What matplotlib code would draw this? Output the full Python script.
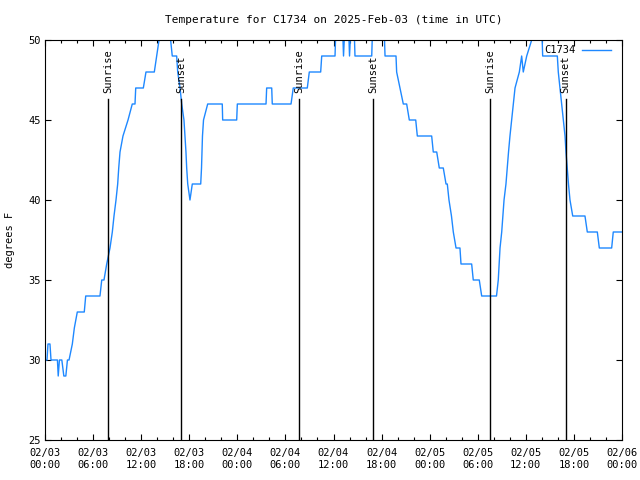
import matplotlib
import matplotlib.pyplot as plt

matplotlib.use("Agg")

# hours since 2025-02-03 00:00 UTC, temperature in deg F
hours = [
    0.00, 0.25, 0.37, 0.62, 0.75, 1.55, 1.65, 1.80, 2.10, 2.35, 2.60, 2.80,
    3.00, 3.41, 3.66, 4.03, 4.90, 5.08, 6.86, 7.08, 7.36, 7.70, 8.11, 8.40,
    8.61, 8.86, 9.07, 9.20, 9.36, 9.73, 10.36, 10.89, 11.23, 11.32, 12.27,
    12.60, 13.64, 13.94, 14.23, 14.35, 15.47, 15.88, 16.43, 16.56, 16.85,
    17.06, 17.34, 17.47, 17.59, 17.68, 17.81, 18.09, 18.38, 19.43, 19.53,
    19.59, 19.65, 19.78, 20.30, 22.12, 22.17, 23.92, 24.00, 27.58, 27.66,
    28.29, 28.36, 30.70, 30.98, 32.73, 32.98, 34.40, 34.53, 36.19, 36.31,
    37.12, 37.25, 37.43, 37.87, 38.00, 38.18, 38.56, 38.68, 40.77, 40.89,
    42.30, 42.43, 43.80, 43.88, 44.30, 44.71, 45.13, 45.46, 46.26, 46.46,
    48.25, 48.45, 48.88, 49.20, 49.70, 50.04, 50.20, 50.41, 50.72, 50.95,
    51.29, 51.78, 51.91, 53.24, 53.44, 54.19, 54.49, 56.34, 56.56, 56.78,
    56.99, 57.28, 57.52, 57.84, 58.02, 58.44, 58.65, 59.19, 59.48, 59.68,
    60.11, 60.73, 60.93, 61.98, 62.10, 63.93, 64.05, 64.26, 64.48, 64.68,
    64.89, 65.01, 65.17, 65.32, 65.51, 65.85, 67.38, 67.67, 68.92, 69.17,
    70.71, 70.91, 72.00,
]
temps = [
    30, 30, 31, 31, 30, 30, 29, 30, 30, 29, 29, 30,
    30, 31, 32, 33, 33, 34, 34, 35, 35, 36, 37, 38,
    39, 40, 41, 42, 43, 44, 45, 46, 46, 47, 47,
    48, 48, 49, 50, 51, 51, 49, 49, 48, 47,
    46, 45, 44, 43, 42, 41, 40, 41, 41, 42,
    43, 44, 45, 46, 46, 45, 45, 46, 46, 47,
    47, 46, 46, 47, 47, 48, 48, 49, 49, 51,
    51, 49, 51, 51, 49, 51, 51, 49, 49, 51,
    51, 49, 49, 48, 47, 46, 46, 45, 45, 44,
    44, 43, 43, 42, 42, 41, 41, 40, 39, 38,
    37, 37, 36, 36, 35, 35, 34, 34, 35, 37,
    38, 40, 41, 43, 44, 46, 47, 48, 49, 48,
    49, 50, 51, 51, 49, 49, 48, 47, 46, 45,
    44, 43, 42, 41, 40, 39, 39, 38, 38, 37,
    37, 38, 38,
]

sun_hours = [7.86, 17.03, 31.69, 40.99, 55.53, 64.95]
sun_labels = ["Sunrise", "Sunset", "Sunrise", "Sunset", "Sunrise", "Sunset"]

tick_hours = list(range(0, 73, 6))
tick_labels = [
    "02/03\n00:00", "02/03\n06:00", "02/03\n12:00", "02/03\n18:00",
    "02/04\n00:00", "02/04\n06:00", "02/04\n12:00", "02/04\n18:00",
    "02/05\n00:00", "02/05\n06:00", "02/05\n12:00", "02/05\n18:00",
    "02/06\n00:00",
]

plt.rcParams["font.family"] = "DejaVu Sans Mono"

fig = plt.figure(figsize=(6.4, 4.8), dpi=100)
ax = fig.add_axes([45 / 640, 40 / 480, 577 / 640, 400 / 480])

ax.plot(hours, temps, color="#1e88ff", linewidth=1.0, label="C1734")

for h, lab in zip(sun_hours, sun_labels):
    ax.plot([h, h], [25, 46.3], color="black", linewidth=1.0)
    ax.text(h, 46.7, lab, rotation=90, ha="center", va="bottom",
            fontsize=7.5, color="black")

ax.set_xlim(0, 72)
ax.set_ylim(25, 50)
ax.set_xticks(tick_hours)
ax.set_xticklabels(tick_labels)
ax.set_xticks(range(0, 73, 2), minor=True)
ax.set_yticks(range(25, 51, 5))
ax.tick_params(axis="both", which="major", direction="in", length=4,
               width=0.8, top=True, right=True, labelsize=7.5, pad=3)
ax.tick_params(axis="x", which="minor", direction="in", length=2.2,
               width=0.8, top=True)
ax.tick_params(axis="x", which="major", pad=6)

for sp in ax.spines.values():
    sp.set_linewidth(0.8)

ax.set_ylabel("degrees F", fontsize=7.5)
ax.yaxis.set_label_coords(-30 / 577, 0.5)
ax.set_title("Temperature for C1734 on 2025-Feb-03 (time in UTC)",
             fontsize=8, pad=12)

leg = ax.legend(loc="upper right", frameon=False, fontsize=7.5,
                handlelength=2.8, borderaxespad=0.2, handletextpad=0.6,
                markerfirst=False, borderpad=0.3)
leg.set_bbox_to_anchor((1 - 6 / 577, 1.0))

fig.savefig("out.png", dpi=100)
